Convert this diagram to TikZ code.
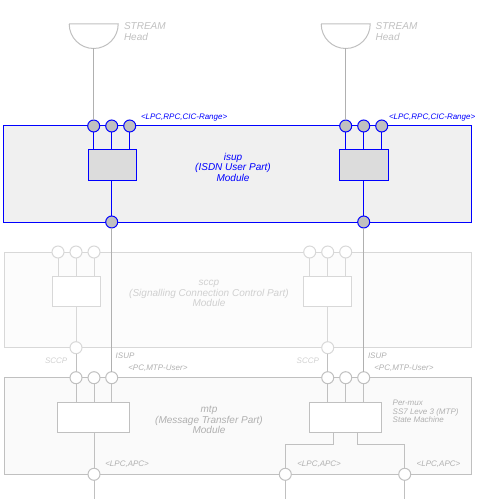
\documentclass[tikz,border=0pt]{standalone}
\usepackage{fontspec}
\setmainfont{Liberation Sans}
\definecolor{isblue}{RGB}{0,0,255}
\definecolor{isfill}{RGB}{240,240,240}
\definecolor{isinner}{RGB}{220,220,220}
\definecolor{isportfill}{RGB}{192,192,192}
\definecolor{headgray}{RGB}{192,192,192}
\definecolor{linegray}{RGB}{176,176,176}
\definecolor{scline}{RGB}{216,216,216}
\definecolor{sctext}{RGB}{208,208,208}
\definecolor{scfill}{RGB}{252,252,252}
\definecolor{mtline}{RGB}{192,192,192}
\definecolor{mttext}{RGB}{176,176,176}
\definecolor{mtfill}{RGB}{250,250,250}
\newcommand\capph{\vphantom{H}}
\begin{document}
\begin{tikzpicture}[x=1bp,y=-1bp,
  every node/.style={inner sep=0pt,outer sep=0pt},
  isbox/.style={draw=isblue,fill=isfill,line width=1bp,anchor=north west},
  isinbox/.style={draw=isblue,fill=isinner,line width=1bp,anchor=north west},
  isportn/.style={circle,draw=isblue,fill=isportfill,line width=1bp,minimum size=12bp},
  isline/.style={draw=isblue,line width=1bp},
  scbox/.style={draw=scline,fill=scfill,line width=1bp,anchor=north west},
  scinbox/.style={draw=scline,fill=white,line width=1bp,anchor=north west},
  scportn/.style={circle,draw=scline,fill=white,line width=1bp,minimum size=12bp},
  scl/.style={draw=scline,line width=1bp},
  mtbox/.style={draw=mtline,fill=mtfill,line width=1bp,anchor=north west},
  mtinbox/.style={draw=mtline,fill=white,line width=1bp,anchor=north west},
  mtportn/.style={circle,draw=mtline,fill=white,line width=1bp,minimum size=12bp},
  mtl/.style={draw=mtline,line width=1bp},
  gline/.style={draw=linegray,line width=1bp},
  headshape/.style={draw=headgray,line width=1bp},
  smalllbl/.style={font=\fontsize{8bp}{8.5bp}\selectfont\itshape,anchor=base west},
  multilbl/.style={font=\fontsize{8bp}{8.5bp}\selectfont\itshape,anchor=north west,align=left},
  headlbl/.style={font=\fontsize{10bp}{10.7bp}\selectfont\itshape,anchor=north west,align=left,text=headgray},
  modtxt/.style={font=\fontsize{10bp}{10.6bp}\selectfont\itshape,anchor=north,align=center}
]
\useasboundingbox (0,0) rectangle (478,499);

% ---------- STREAM heads ----------
\draw[headshape] (69.2,24) -- (118.2,24) arc[start angle=0,end angle=180,radius=24.5] -- cycle;
\draw[headshape] (321.2,24) -- (370.2,24) arc[start angle=0,end angle=180,radius=24.5] -- cycle;
\coordinate (h1) at (93.7,48.5);
\coordinate (h2) at (345.7,48.5);
\node[headlbl] (hl1) at (124,22.6) {\capph STREAM\\Head};
\node[headlbl] (hl2) at (375.7,22.6) {\capph STREAM\\Head};

% ---------- isup module ----------
\node[isbox,minimum width=468bp,minimum height=96bp] (isup) at (3.3,126) {};
\node[isinbox,minimum width=48.5bp,minimum height=30bp] (ibL) at (88,150) {};
\node[isinbox,minimum width=48.5bp,minimum height=30bp] (ibR) at (339.5,150) {};

% ---------- sccp module ----------
\node[scbox,minimum width=467bp,minimum height=95.7bp] (sccp) at (4.3,252) {};
\node[scinbox,minimum width=48bp,minimum height=30.3bp] (sbL) at (52.3,276) {};
\node[scinbox,minimum width=48bp,minimum height=30.3bp] (sbR) at (303.3,276) {};

% ---------- mtp module ----------
\node[mtbox,minimum width=467bp,minimum height=96.6bp] (mtp) at (4.3,377.7) {};
\node[mtinbox,minimum width=71.6bp,minimum height=30bp] (mbL) at (57.7,402.3) {};
\node[mtinbox,minimum width=72bp,minimum height=30bp] (mbR) at (309.3,402.3) {};

% ---------- ports ----------
\node[isportn] (iT1) at (93.7,126) {};
\node[isportn] (iT2) at (111.7,126) {};
\node[isportn] (iT3) at (129.7,126) {};
\node[isportn] (iT4) at (345.7,126) {};
\node[isportn] (iT5) at (363.7,126) {};
\node[isportn] (iT6) at (381.7,126) {};
\node[isportn] (iB1) at (111.7,222) {};
\node[isportn] (iB2) at (363.7,222) {};

\node[scportn] (sT1) at (58,252) {};
\node[scportn] (sT2) at (76,252) {};
\node[scportn] (sT3) at (94,252) {};
\node[scportn] (sT4) at (309.7,252) {};
\node[scportn] (sT5) at (327.7,252) {};
\node[scportn] (sT6) at (345.7,252) {};
\node[scportn] (sB1) at (76,347.7) {};
\node[scportn] (sB2) at (327.7,347.7) {};

\node[mtportn] (mT1) at (76,377.7) {};
\node[mtportn] (mT2) at (94,377.7) {};
\node[mtportn] (mT3) at (111.7,377.7) {};
\node[mtportn] (mT4) at (327.7,377.7) {};
\node[mtportn] (mT5) at (345.7,377.7) {};
\node[mtportn] (mT6) at (363.7,377.7) {};
\node[mtportn] (mB1) at (94,474.3) {};
\node[mtportn] (mB2) at (285.3,474.3) {};
\node[mtportn] (mB3) at (404.7,474.3) {};

\coordinate (e1) at (94,499);
\coordinate (e2) at (285.3,499);
\coordinate (e3) at (404.7,499);

% ---------- connectors ----------
\draw[gline] (h1) -- (iT1);
\draw[gline] (h2) -- (iT4);
\foreach \p in {iT1,iT2,iT3} \draw[isline] (\p) -- (\p |- ibL.north);
\foreach \p in {iT4,iT5,iT6} \draw[isline] (\p) -- (\p |- ibR.north);
\draw[isline] (ibL.south -| iB1) -- (iB1);
\draw[isline] (ibR.south -| iB2) -- (iB2);

\foreach \p in {sT1,sT2,sT3} \draw[scl] (\p) -- (\p |- sbL.north);
\foreach \p in {sT4,sT5,sT6} \draw[scl] (\p) -- (\p |- sbR.north);
\draw[scl] (sbL.south -| sB1) -- (sB1);
\draw[scl] (sbR.south -| sB2) -- (sB2);

\draw[gline] (iB1) -- (mT3);
\draw[gline] (iB2) -- (mT6);
\draw[mtl] (sB1) -- (mT1);
\draw[mtl] (sB2) -- (mT4);

\foreach \p in {mT1,mT2,mT3} \draw[mtl] (\p) -- (\p |- mbL.north);
\foreach \p in {mT4,mT5,mT6} \draw[mtl] (\p) -- (\p |- mbR.north);
\draw[mtl] (mbL.south -| mB1) -- (mB1);
\draw[mtl] ([xshift=-11.6bp]mbR.south) -- ++(0,11.7) -| (mB2);
\draw[mtl] ([xshift=11.7bp]mbR.south) -- ++(0,11.7) -| (mB3);
\draw[mtl] (mB1) -- (e1);
\draw[mtl] (mB2) -- (e2);
\draw[mtl] (mB3) -- (e3);

% ---------- texts ----------
\node[smalllbl,text=isblue] (lr1) at (141,120) {<LPC,RPC,CIC-Range>};
\node[smalllbl,text=isblue] (lr2) at (389,120) {<LPC,RPC,CIC-Range>};
\node[modtxt,text=isblue] (ist) at (233,153.1) {\capph isup\\(ISDN User Part)\\Module};
\node[modtxt,text=sctext] (sct) at (209,278.8) {\capph sccp\\(Signalling Connection Control Part)\\Module};
\node[modtxt,text=mttext] (mtt) at (209,405.8) {\capph mtp\\(Message Transfer Part)\\Module};

\node[smalllbl,text=sctext] (sc1) at (45,363.3) {SCCP};
\node[smalllbl,text=sctext] (sc2) at (296.7,363.3) {SCCP};
\node[smalllbl,text=mttext] (is1) at (115.7,358.5) {ISUP};
\node[smalllbl,text=mttext] (is2) at (368,358.5) {ISUP};
\node[smalllbl,text=mttext] (pm1) at (128.3,370) {<PC,MTP-User>};
\node[smalllbl,text=mttext] (pm2) at (374.3,370) {<PC,MTP-User>};
\node[smalllbl,text=mttext] (la1) at (105.3,466.7) {<LPC,APC>};
\node[smalllbl,text=mttext] (la2) at (297.3,466.7) {<LPC,APC>};
\node[smalllbl,text=mttext] (la3) at (416.7,466.7) {<LPC,APC>};
\node[multilbl,text=mttext] (sm) at (392.7,400.2) {\capph Per-mux\\SS7 Leve 3 (MTP)\\State Machine};
\end{tikzpicture}
\end{document}
